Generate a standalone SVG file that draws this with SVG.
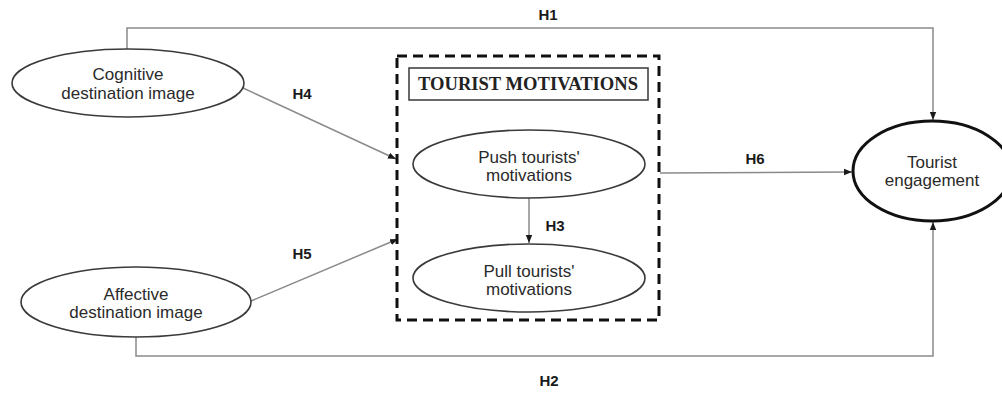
<svg xmlns="http://www.w3.org/2000/svg" width="1002" height="393" viewBox="0 0 1002 393">
<defs>
<style>
.lbl{font-family:"Liberation Sans",Arial,sans-serif;font-size:17px;fill:#2a2a2a;text-anchor:middle}
.h{font-family:"Liberation Sans",Arial,sans-serif;font-size:15px;font-weight:bold;fill:#1a1a1a;text-anchor:middle}
.ell{fill:#fff;stroke:#3a3a3a;stroke-width:1.6}
.con{fill:none;stroke:#8a8a8a;stroke-width:1.5}
</style>
<marker id="ah" markerUnits="userSpaceOnUse" markerWidth="8" markerHeight="8" viewBox="0 0 8 8" refX="8" refY="4" orient="auto">
<path d="M0,0.8 L8,4 L0,7.2 Z" fill="#1a1a1a"/>
</marker>
</defs>
<rect width="1002" height="393" fill="#fff"/>
<g id="connectors">
<path class="con" d="M127,49 V28 H933 V120" marker-end="url(#ah)"/>
<path class="con" d="M136,337 V356 H933 V222" marker-end="url(#ah)"/>
<path class="con" d="M243,88 L396,159" marker-end="url(#ah)"/>
<path class="con" d="M251,301 L398,239" marker-end="url(#ah)"/>
<path class="con" d="M660,173 L852,172" marker-end="url(#ah)"/>
<path class="con" d="M529,198 V243" stroke="#444" marker-end="url(#ah)"/>
<text class="h" x="548" y="20">H1</text>
<text class="h" x="549" y="386">H2</text>
<text class="h" x="302" y="99">H4</text>
<text class="h" x="302" y="259">H5</text>
<text class="h" x="755" y="164">H6</text>
<text class="h" x="555" y="231">H3</text>
</g>
<g id="tourist-motivations">
<rect x="397" y="56" width="262" height="264" fill="none" stroke="#111" stroke-width="3" stroke-dasharray="10 6"/>
<rect x="409" y="68" width="239" height="32" fill="#fff" stroke="#444" stroke-width="1.6"/>
<text x="528" y="90" font-family="'Liberation Serif','Times New Roman',serif" font-size="18" font-weight="bold" fill="#222" text-anchor="middle" textLength="220" lengthAdjust="spacingAndGlyphs">TOURIST MOTIVATIONS</text>
</g>
<g id="cognitive">
<ellipse class="ell" cx="128" cy="83" rx="116" ry="34"/>
<text class="lbl" x="128" y="80">Cognitive</text>
<text class="lbl" x="128" y="99">destination image</text>
</g>
<g id="affective">
<ellipse class="ell" cx="136" cy="302" rx="115" ry="35"/>
<text class="lbl" x="136" y="300">Affective</text>
<text class="lbl" x="136" y="318">destination image</text>
</g>
<g id="push">
<ellipse class="ell" cx="529" cy="164" rx="116" ry="34"/>
<text class="lbl" x="529" y="163">Push tourists'</text>
<text class="lbl" x="529" y="181">motivations</text>
</g>
<g id="pull">
<ellipse class="ell" cx="529" cy="278" rx="116" ry="34"/>
<text class="lbl" x="529" y="277">Pull tourists'</text>
<text class="lbl" x="529" y="295">motivations</text>
</g>
<g id="engagement">
<ellipse cx="932" cy="171" rx="79" ry="50" fill="#fff" stroke="#111" stroke-width="3"/>
<text class="lbl" x="932" y="168">Tourist</text>
<text class="lbl" x="932" y="186">engagement</text>
</g>
</svg>
